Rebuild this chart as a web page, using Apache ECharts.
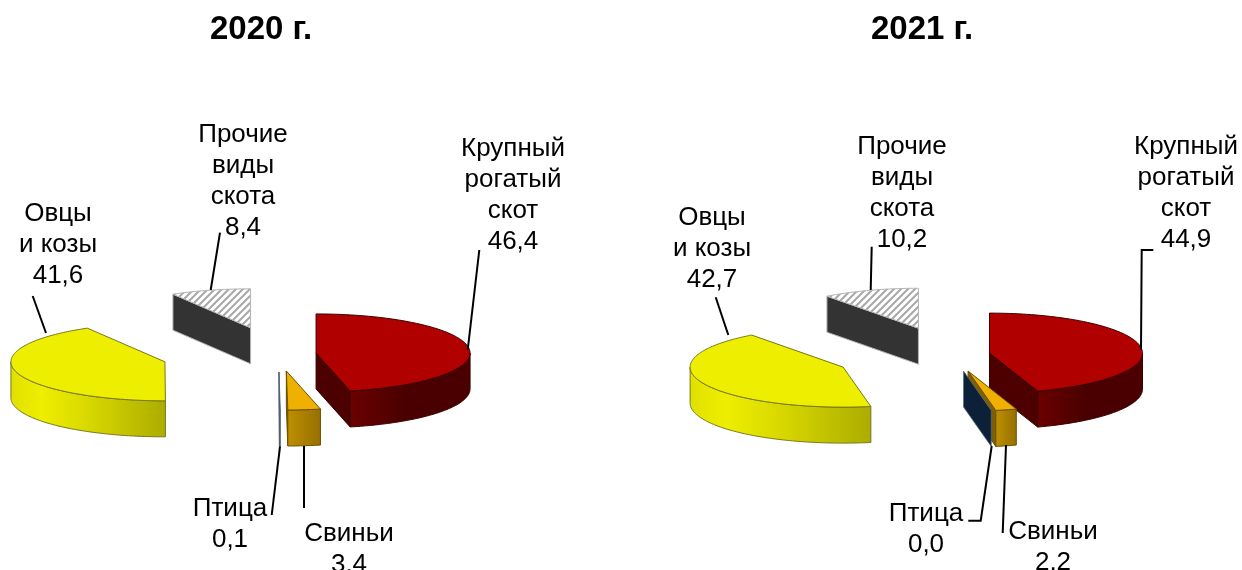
<!DOCTYPE html>
<html>
<head>
<meta charset="utf-8">
<style>
html, body { margin: 0; padding: 0; background: #fff; }
#chart { width: 1242px; height: 570px; }
</style>
<script src="https://cdn.jsdelivr.net/npm/echarts@6/dist/echarts.min.js"></script>
</head>
<body>
<div id="chart"></div>
<script>
// shares, %  (clockwise from 12 o'clock)
var categories = ['Крупный\nрогатый\nскот', 'Свиньи', 'Птица', 'Овцы\nи козы', 'Прочие\nвиды\nскота'];
var values2020 = [46.4, 3.4, 0.1, 41.6, 8.4];
var values2021 = [44.9, 2.2, 0.0, 42.7, 10.2];
var titles = ['2020 г.', '2021 г.'];

// layout of the two pies, explode = how far a slice is pulled out along its bisector
var pies = [
    { cx: 278.5, cy: 354, rx: 154, ry: 39, depth: 36, explode: [37.8, 67.6, 71, 117.7, 107] },
    { cx: 952, cy: 354.7, rx: 153, ry: 40, depth: 36, explode: [38, 64.7, 63.7, 118.8, 106.6] }
];
// label centre and leader line for every slice
var labels = [
    [
        { x: 513, y: 195, line: [[479.3, 250], [467.7, 350]] },
        { x: 349, y: 549, line: [[304, 446], [304, 508]] },
        { x: 230, y: 524, line: [[280, 446.7], [271.7, 515]] },
        { x: 58, y: 245, line: [[32.7, 296], [46, 333]] },
        { x: 243, y: 181, line: [[220, 232.7], [210.7, 290]] }
    ],
    [
        { x: 1186, y: 193, line: [[1153.3, 250], [1141.7, 250], [1141, 350]] },
        { x: 1053, y: 547.5, line: [[1006, 445], [1002.7, 533]] },
        { x: 926, y: 529.5, line: [[991.7, 446], [980.7, 520.7], [968.3, 520.7]] },
        { x: 712, y: 249, line: [[715.7, 297.3], [728.3, 335]] },
        { x: 902, y: 193.5, line: [[871.7, 246.7], [870.7, 290]] }
    ]
];
// painting order of the slices, back to front
var drawRank = [0, 2, 3, 4, 1];

function hatch() {
    var c = document.createElement('canvas');
    c.width = c.height = 7;
    var g = c.getContext('2d');
    g.fillStyle = '#fff';
    g.fillRect(0, 0, 7, 7);
    g.strokeStyle = '#a8a8a8';
    g.lineWidth = 2;
    g.beginPath();
    g.moveTo(-1, 8); g.lineTo(8, -1);
    g.moveTo(-4, 4); g.lineTo(4, -4);
    g.moveTo(3, 11); g.lineTo(11, 3);
    g.stroke();
    return { image: c, repeat: 'repeat' };
}

function wallGrad(stops) {
    return {
        type: 'linear', x: 0, y: 0, x2: 1, y2: 0,
        colorStops: stops.map(function (s) { return { offset: s[0], color: s[1] }; })
    };
}

var sliceStyles = [
    { top: '#b00000', edge: '#4d0000', side: '#4d0000', stroke: '#3a0000',
      wall: wallGrad([[0, '#6b0000'], [0.45, '#4a0000'], [1, '#4a0000']]) },
    { top: '#f0b000', edge: '#7f6000', side: '#7f6000', stroke: '#6b5000',
      wall: wallGrad([[0, '#bf8f00'], [1, '#957000']]) },
    { top: '#0c2038', edge: '#0c2038', side: '#0c2038', stroke: 'rgba(90,105,120,0.8)',
      wall: wallGrad([[0, '#0c2038'], [1, '#0c2038']]) },
    { top: '#eeee00', edge: '#b0b000', side: '#b0b000', stroke: '#77771e',
      wall: wallGrad([[0, '#e0e000'], [0.2, '#eeee00'], [0.5, '#d8d800'], [1, '#acac00']]) },
    { top: hatch(), edge: '#333333', side: '#333333', stroke: '#b4b4b4',
      wall: '#333333' }
];

function rad(d) { return d * Math.PI / 180; }

function makeRender(values, pie, lab) {
    var total = values.reduce(function (a, b) { return a + b; }, 0);
    var starts = [];
    var sum = 0;
    values.forEach(function (v) { starts.push(sum / total * 360); sum += v; });

    return function (params, api) {
        var i = api.value(0);
        var a0 = starts[i];
        var a1 = a0 + api.value(1) / total * 360;
        var mid = (a0 + a1) / 2;
        var e = pie.explode[i];
        var cx = pie.cx + e * Math.sin(rad(mid));
        var cy = pie.cy - e * Math.cos(rad(mid)) * pie.ry / pie.rx;
        var st = sliceStyles[i];
        var z = drawRank[i] * 10;

        function rim(a) {
            return [cx + pie.rx * Math.sin(rad(a)), cy - pie.ry * Math.cos(rad(a))];
        }
        function arc(from, to) {
            var pts = [];
            var n = Math.max(1, Math.ceil(Math.abs(to - from)));
            for (var k = 0; k <= n; k++) {
                pts.push(rim(from + (to - from) * k / n));
            }
            return pts;
        }
        function down(p) { return [p[0], p[1] + pie.depth]; }
        function poly(points, fill, stroke, dz) {
            return {
                type: 'polygon',
                z2: z + dz,
                shape: { points: points },
                style: { fill: fill, stroke: stroke, lineWidth: 1 }
            };
        }

        var children = [];
        // radial walls that face the viewer
        if (Math.sin(rad(a1)) > 0.001) {
            var p1 = rim(a1);
            children.push(poly([[cx, cy], p1, down(p1), [cx, cy + pie.depth]], st.edge, st.stroke, 1));
        }
        if (Math.sin(rad(a0)) < -0.001) {
            var p0 = rim(a0);
            children.push(poly([[cx, cy], p0, down(p0), [cx, cy + pie.depth]], st.side, st.stroke, 1));
        }
        // outer wall, front half of the rim only
        var f0 = Math.max(a0, 90);
        var f1 = Math.min(a1, 270);
        if (f1 > f0) {
            var topEdge = arc(f0, f1);
            var wall = topEdge.concat(topEdge.slice().reverse().map(down));
            children.push(poly(wall, st.wall, st.stroke, 2));
        }
        // top face
        if (a1 > a0) {
            children.push(poly([[cx, cy]].concat(arc(a0, a1)), st.top, st.stroke, 3));
        }

        // label and leader
        var l = lab[i];
        children.push({
            type: 'polyline',
            z2: 100,
            shape: { points: l.line },
            style: { fill: null, stroke: '#000', lineWidth: 2 }
        });
        children.push({
            type: 'text',
            z2: 101,
            style: {
                x: l.x,
                y: l.y,
                text: categories[i] + '\n' + api.value(1).toFixed(1).replace('.', ','),
                font: '26px "Liberation Sans", Arial, sans-serif',
                fill: '#000',
                align: 'center',
                verticalAlign: 'middle',
                lineHeight: 31
            }
        });
        return { type: 'group', children: children };
    };
}

function rows(values) {
    return values.map(function (v, i) { return [i, v]; });
}

var chart = echarts.init(document.getElementById('chart'), null, { renderer: 'canvas' });
chart.setOption({
    animation: false,
    backgroundColor: '#fff',
    title: [
        { text: titles[0], left: 210, top: 13, padding: 0,
          textStyle: { fontFamily: 'Liberation Sans', fontWeight: 'bold', fontSize: 33, color: '#000' } },
        { text: titles[1], left: 871, top: 13, padding: 0,
          textStyle: { fontFamily: 'Liberation Sans', fontWeight: 'bold', fontSize: 33, color: '#000' } }
    ],
    series: [
        { type: 'custom', coordinateSystem: 'none', clip: false, data: rows(values2020),
          renderItem: makeRender(values2020, pies[0], labels[0]) },
        { type: 'custom', coordinateSystem: 'none', clip: false, data: rows(values2021),
          renderItem: makeRender(values2021, pies[1], labels[1]) }
    ]
});
</script>
</body>
</html>
